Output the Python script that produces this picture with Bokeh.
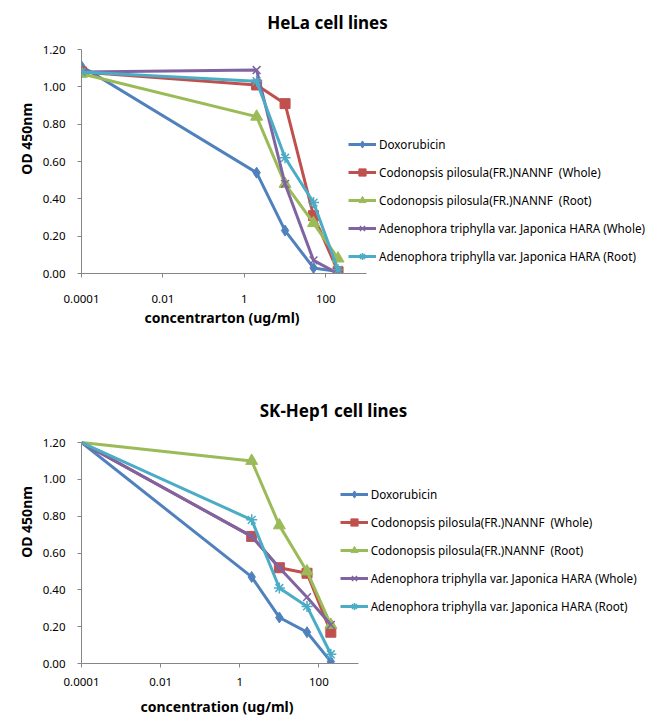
from bokeh.plotting import figure
from bokeh.layouts import column
from bokeh.models import (FixedTicker, Legend, LegendItem, Label, Range1d, Title,
                          CustomJSTickFormatter, NumeralTickFormatter)
from bokeh.embed import file_html
from bokeh.resources import INLINE

# ---------------- data ----------------
conc = [0.0001, 2, 10, 50, 200]
x_ticks = [0.0001, 0.01, 1, 100]
y_ticks = [0.0, 0.2, 0.4, 0.6, 0.8, 1.0, 1.2]

series_names = [
    "Doxorubicin",
    "Codonopsis pilosula(FR.)NANNF  (Whole)",
    "Codonopsis pilosula(FR.)NANNF  (Root)",
    "Adenophora triphylla var. Japonica HARA (Whole)",
    "Adenophora triphylla var. Japonica HARA (Root)",
]

hela_dox = [1.11, 0.54, 0.23, 0.03, 0.01]
hela_cp_whole = [1.08, 1.01, 0.91, 0.31, 0.01]
hela_cp_root = [1.07, 0.84, 0.48, 0.27, 0.08]
hela_at_whole = [1.08, 1.09, 0.48, 0.07, 0.00]
hela_at_root = [1.08, 1.03, 0.62, 0.38, 0.02]

sk_dox = [1.20, 0.47, 0.25, 0.17, 0.01]
sk_cp_whole = [1.20, 0.69, 0.52, 0.49, 0.17]
sk_cp_root = [1.20, 1.10, 0.75, 0.50, 0.21]
sk_at_whole = [1.20, 0.69, 0.52, 0.36, 0.21]
sk_at_root = [1.20, 0.78, 0.41, 0.31, 0.05]

# ---------------- style ----------------
colors = ["#4F81BD", "#C0504D", "#9BBB59", "#8064A2", "#4BACC6"]
markers = ["diamond", "square", "triangle", "x", "asterisk"]
msizes = [11, 10, 12, 11, 11]
FONT = "Noto Sans"
AXIS_COLOR = "#868686"
TOTAL_W = 650
X_MIN, X_MAX = 1e-4, 1e3
Y_MAX = 1.2


def make_fig(title, data, xlabel, ylabel, left, axis_w, axis_h, top_pad,
             bottom, title_xy, legend_xy, first_marker, tick_standoff,
             xlabel_offset, xlabel_standoff):
    fw = TOTAL_W - left
    dec_px = axis_w / 7.0
    x_end = 10 ** (-4 + fw / dec_px)
    fh = axis_h + top_pad
    y_end = Y_MAX * fh / axis_h
    p = figure(x_axis_type="log", x_range=Range1d(X_MIN, x_end),
               y_range=Range1d(0, y_end), frame_width=fw, frame_height=fh,
               min_border_left=left, min_border_top=0,
               min_border_bottom=bottom, min_border_right=0,
               output_backend="svg", toolbar_location=None)
    p.outline_line_color = None
    p.xgrid.visible = False
    p.ygrid.visible = False
    p.background_fill_color = "white"
    p.border_fill_color = "white"

    items = []
    for i, ys in enumerate(data):
        lr = p.line(conc, ys, line_color=colors[i], line_width=3)
        start = 0 if first_marker else 1
        mk = dict(marker=markers[i], size=msizes[i], line_color=colors[i],
                  fill_color=colors[i])
        if markers[i] in ("x", "asterisk"):
            mk["line_width"] = 1.5
        sr = p.scatter(conc[start:], ys[start:], **mk)
        items.append(LegendItem(label=series_names[i], renderers=[lr, sr]))

    leg = Legend(items=items, location=legend_xy)
    leg.margin = 0
    leg.padding = 0
    leg.spacing = 10
    leg.glyph_width = 28
    leg.glyph_height = 18
    leg.label_height = 18
    leg.label_standoff = 3
    leg.border_line_color = None
    leg.background_fill_alpha = 0
    leg.label_text_font = FONT
    leg.label_text_font_size = "11.7px"
    leg.label_text_color = "black"
    p.add_layout(leg)

    for ax in (p.xaxis[0], p.yaxis[0]):
        ax.axis_line_color = AXIS_COLOR
        ax.major_tick_line_color = AXIS_COLOR
        ax.minor_tick_line_color = None
        ax.major_tick_in = 0
        ax.major_tick_out = 4
        ax.major_label_text_font = FONT
        ax.major_label_text_font_size = "11.5px"
        ax.major_label_text_color = "black"
        ax.axis_label_text_font = FONT
        ax.axis_label_text_font_style = "bold"
        ax.axis_label_text_font_size = "14px"
        ax.axis_label_text_color = "black"

    p.xaxis.ticker = FixedTicker(ticks=x_ticks)
    p.xaxis.bounds = (X_MIN, X_MAX)
    p.xaxis.formatter = CustomJSTickFormatter(code="return tick.toString();")
    p.xaxis.major_label_standoff = tick_standoff

    # x-axis title placed under the axis, centred under the axis line
    p.add_layout(Title(text=xlabel, align="left", offset=xlabel_offset,
                       standoff=xlabel_standoff, text_font=FONT,
                       text_font_size="14px", text_font_style="bold",
                       text_color="black"), "below")

    p.yaxis.ticker = FixedTicker(ticks=y_ticks)
    p.yaxis.bounds = (0, Y_MAX)
    p.yaxis.formatter = NumeralTickFormatter(format="0.00")
    p.yaxis.major_label_standoff = 12
    p.yaxis.axis_label = ylabel
    p.yaxis.axis_label_standoff = 4

    p.add_layout(Label(x=title_xy[0], y=title_xy[1], x_units="screen",
                       y_units="screen", text=title, text_align="center",
                       text_baseline="middle", text_font=FONT,
                       text_font_style="bold", text_font_size="17px",
                       text_color="black"))
    return p


p1 = make_fig("HeLa cell lines",
              [hela_dox, hela_cp_whole, hela_cp_root, hela_at_whole, hela_at_root],
              "concentrarton (ug/ml)", "OD  450nm",
              left=81, axis_w=285, axis_h=224, top_pad=49, bottom=107,
              title_xy=(246, 251), legend_xy=(267, 8), first_marker=True,
              tick_standoff=17, xlabel_offset=63, xlabel_standoff=0)

p2 = make_fig("SK-Hep1 cell lines",
              [sk_dox, sk_cp_whole, sk_cp_root, sk_at_whole, sk_at_root],
              "concentration (ug/ml)", "OD 450nm",
              left=76, axis_w=277, axis_h=221, top_pad=62, bottom=56,
              title_xy=(252, 253), legend_xy=(269, 48), first_marker=False,
              tick_standoff=10, xlabel_offset=59, xlabel_standoff=12)

layout = column(p1, p2, spacing=0)
open("out.html", "w").write(file_html(layout, INLINE))
